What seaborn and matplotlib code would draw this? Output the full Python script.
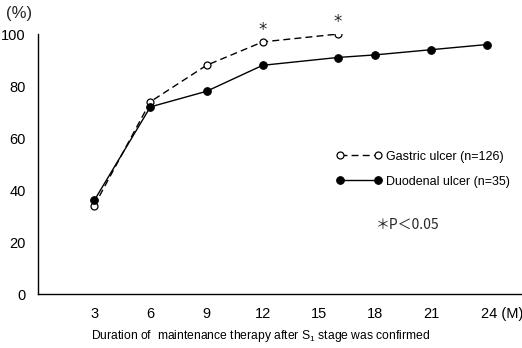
import matplotlib
matplotlib.use("Agg")
import matplotlib.pyplot as plt
from matplotlib.transforms import ScaledTranslation
import seaborn as sns
import pandas as pd

sns.set_theme(style="white")
plt.rcParams["font.family"] = ["Liberation Sans", "DejaVu Sans"]
plt.rcParams["mathtext.fontset"] = "custom"
plt.rcParams["mathtext.rm"] = "Liberation Sans"

# Cumulative rates (%) by months of maintenance therapy
gastric_months = [3, 6, 9, 12, 16]
gastric_rate = [34, 74, 88, 97, 100]
duodenal_months = [3, 6, 9, 12, 16, 18, 21, 24]
duodenal_rate = [36, 72, 78, 88, 91, 92, 94, 96]
significant_months = [12, 16]

x_ticks = [3, 6, 9, 12, 15, 18, 21, 24]
x_tick_labels = ["3", "6", "9", "12", "15", "18", "21", "24 (M)"]
y_major = [0, 20, 40, 60, 80, 100]
y_minor = [10, 30, 50, 70, 90]

gastric = pd.DataFrame({"month": gastric_months, "rate": gastric_rate})
duodenal = pd.DataFrame({"month": duodenal_months, "rate": duodenal_rate})

fig = plt.figure(figsize=(5.22, 3.48), dpi=100)
ax = fig.add_axes([0.073, 0.155, 0.925, 0.747])

sns.lineplot(data=gastric, x="month", y="rate", ax=ax, color="black",
             linestyle=(0, (5, 3)), linewidth=1.0, marker="o", markersize=5,
             markerfacecolor="white", markeredgecolor="black", markeredgewidth=0.9,
             label="Gastric ulcer (n=126)")
sns.lineplot(data=duodenal, x="month", y="rate", ax=ax, color="black",
             linewidth=1.0, marker="o", markersize=5.5,
             markerfacecolor="black", markeredgecolor="black",
             label="Duodenal ulcer (n=35)")

# significance marks above the gastric points
for m in significant_months:
    r = gastric_rate[gastric_months.index(m)]
    ax.annotate("*", (m, r), xytext=(0, 2), textcoords="offset points",
                ha="center", va="bottom", fontsize=12, family="DejaVu Sans")

ax.set_xlim(0, 25.8)
ax.set_ylim(0, 100)
ax.set_xticks(x_ticks)
ax.set_xticklabels(x_tick_labels)
ax.set_yticks(y_major)
ax.set_yticks(y_minor, minor=True)
ax.tick_params(axis="both", which="both", direction="out", length=5, width=0.9,
               colors="black", labelsize=10.5, pad=4)
ax.tick_params(axis="y", which="minor", labelleft=False)

# keep "24" centred on its tick with the unit trailing to the right
last = ax.get_xticklabels()[-1]
last.set_ha("left")
last.set_transform(last.get_transform() + ScaledTranslation(-0.065, 0, fig.dpi_scale_trans))

for side in ["top", "right"]:
    ax.spines[side].set_visible(False)
for side in ["left", "bottom"]:
    ax.spines[side].set_color("black")
    ax.spines[side].set_linewidth(1.0)

ax.set_xlabel(r"Duration of  maintenance therapy after S$_\mathregular{1}$ stage was confirmed",
              fontsize=8.7, labelpad=5, color="black")
ax.xaxis.label.set_x(0.46)
ax.set_ylabel("")

fig.text(0.012, 0.962, "(%)", fontsize=12, ha="left", va="center")

leg = ax.legend(loc="upper left", bbox_to_anchor=(0.595, 0.595), frameon=False,
                numpoints=2, handlelength=3.6, handletextpad=0.35,
                labelspacing=1.05, fontsize=9)
for t in leg.get_texts():
    t.set_color("black")

ax.text(0.70, 0.265, "＊P＜0.05", transform=ax.transAxes, fontsize=10,
        family=["Noto Sans CJK JP", "DejaVu Sans"], ha="left", va="center")

fig.savefig("out.png", dpi=100, facecolor="white")
